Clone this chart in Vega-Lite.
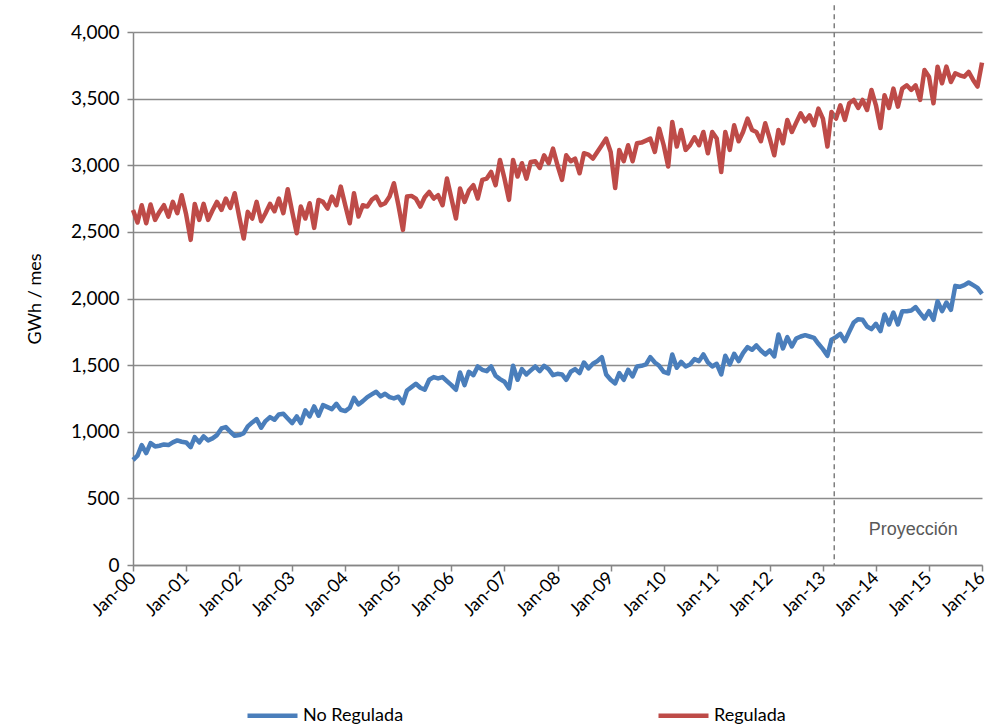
{
"$schema": "https://vega.github.io/schema/vega-lite/v6.json",
"width": 849, "height": 533,
"autosize": {"type": "none"},
"padding": {"left": 133, "top": 32, "right": 19, "bottom": 163},
"background": "white",
"config": {"view": {"stroke": null}, "font": "Lato"},
"datasets": {
"series": [
{"d":"2000-01-01","No Regulada":788,"Regulada":2664},{"d":"2000-02-01","No Regulada":820,"Regulada":2570},{"d":"2000-03-01","No Regulada":900,"Regulada":2700},{"d":"2000-04-01","No Regulada":840,"Regulada":2565},{"d":"2000-05-01","No Regulada":915,"Regulada":2705},{"d":"2000-06-01","No Regulada":890,"Regulada":2590},{"d":"2000-07-01","No Regulada":895,"Regulada":2650},{"d":"2000-08-01","No Regulada":905,"Regulada":2700},{"d":"2000-09-01","No Regulada":900,"Regulada":2615},{"d":"2000-10-01","No Regulada":920,"Regulada":2725},{"d":"2000-11-01","No Regulada":935,"Regulada":2640},{"d":"2000-12-01","No Regulada":925,"Regulada":2775},
{"d":"2001-01-01","No Regulada":920,"Regulada":2630},{"d":"2001-02-01","No Regulada":885,"Regulada":2440},{"d":"2001-03-01","No Regulada":960,"Regulada":2710},{"d":"2001-04-01","No Regulada":920,"Regulada":2590},{"d":"2001-05-01","No Regulada":965,"Regulada":2710},{"d":"2001-06-01","No Regulada":935,"Regulada":2590},{"d":"2001-07-01","No Regulada":950,"Regulada":2660},{"d":"2001-08-01","No Regulada":975,"Regulada":2725},{"d":"2001-09-01","No Regulada":1025,"Regulada":2665},{"d":"2001-10-01","No Regulada":1035,"Regulada":2750},{"d":"2001-11-01","No Regulada":1000,"Regulada":2680},{"d":"2001-12-01","No Regulada":970,"Regulada":2790},
{"d":"2002-01-01","No Regulada":975,"Regulada":2615},{"d":"2002-02-01","No Regulada":990,"Regulada":2450},{"d":"2002-03-01","No Regulada":1040,"Regulada":2650},{"d":"2002-04-01","No Regulada":1070,"Regulada":2600},{"d":"2002-05-01","No Regulada":1095,"Regulada":2725},{"d":"2002-06-01","No Regulada":1030,"Regulada":2580},{"d":"2002-07-01","No Regulada":1080,"Regulada":2640},{"d":"2002-08-01","No Regulada":1110,"Regulada":2710},{"d":"2002-09-01","No Regulada":1090,"Regulada":2655},{"d":"2002-10-01","No Regulada":1130,"Regulada":2750},{"d":"2002-11-01","No Regulada":1135,"Regulada":2640},{"d":"2002-12-01","No Regulada":1100,"Regulada":2820},
{"d":"2003-01-01","No Regulada":1065,"Regulada":2650},{"d":"2003-02-01","No Regulada":1115,"Regulada":2490},{"d":"2003-03-01","No Regulada":1065,"Regulada":2690},{"d":"2003-04-01","No Regulada":1160,"Regulada":2600},{"d":"2003-05-01","No Regulada":1115,"Regulada":2715},{"d":"2003-06-01","No Regulada":1190,"Regulada":2530},{"d":"2003-07-01","No Regulada":1120,"Regulada":2740},{"d":"2003-08-01","No Regulada":1200,"Regulada":2725},{"d":"2003-09-01","No Regulada":1185,"Regulada":2675},{"d":"2003-10-01","No Regulada":1170,"Regulada":2765},{"d":"2003-11-01","No Regulada":1210,"Regulada":2700},{"d":"2003-12-01","No Regulada":1165,"Regulada":2840},
{"d":"2004-01-01","No Regulada":1155,"Regulada":2700},{"d":"2004-02-01","No Regulada":1180,"Regulada":2565},{"d":"2004-03-01","No Regulada":1255,"Regulada":2790},{"d":"2004-04-01","No Regulada":1205,"Regulada":2615},{"d":"2004-05-01","No Regulada":1230,"Regulada":2700},{"d":"2004-06-01","No Regulada":1260,"Regulada":2690},{"d":"2004-07-01","No Regulada":1280,"Regulada":2740},{"d":"2004-08-01","No Regulada":1300,"Regulada":2765},{"d":"2004-09-01","No Regulada":1265,"Regulada":2700},{"d":"2004-10-01","No Regulada":1285,"Regulada":2715},{"d":"2004-11-01","No Regulada":1260,"Regulada":2765},{"d":"2004-12-01","No Regulada":1250,"Regulada":2865},
{"d":"2005-01-01","No Regulada":1263,"Regulada":2700},{"d":"2005-02-01","No Regulada":1215,"Regulada":2515},{"d":"2005-03-01","No Regulada":1310,"Regulada":2765},{"d":"2005-04-01","No Regulada":1335,"Regulada":2770},{"d":"2005-05-01","No Regulada":1360,"Regulada":2750},{"d":"2005-06-01","No Regulada":1330,"Regulada":2690},{"d":"2005-07-01","No Regulada":1315,"Regulada":2760},{"d":"2005-08-01","No Regulada":1390,"Regulada":2800},{"d":"2005-09-01","No Regulada":1410,"Regulada":2750},{"d":"2005-10-01","No Regulada":1400,"Regulada":2775},{"d":"2005-11-01","No Regulada":1410,"Regulada":2700},{"d":"2005-12-01","No Regulada":1380,"Regulada":2900},
{"d":"2006-01-01","No Regulada":1350,"Regulada":2750},{"d":"2006-02-01","No Regulada":1315,"Regulada":2600},{"d":"2006-03-01","No Regulada":1445,"Regulada":2825},{"d":"2006-04-01","No Regulada":1350,"Regulada":2725},{"d":"2006-05-01","No Regulada":1450,"Regulada":2810},{"d":"2006-06-01","No Regulada":1425,"Regulada":2850},{"d":"2006-07-01","No Regulada":1490,"Regulada":2750},{"d":"2006-08-01","No Regulada":1465,"Regulada":2890},{"d":"2006-09-01","No Regulada":1455,"Regulada":2900},{"d":"2006-10-01","No Regulada":1490,"Regulada":2950},{"d":"2006-11-01","No Regulada":1420,"Regulada":2850},{"d":"2006-12-01","No Regulada":1395,"Regulada":3040},
{"d":"2007-01-01","No Regulada":1375,"Regulada":2900},{"d":"2007-02-01","No Regulada":1325,"Regulada":2740},{"d":"2007-03-01","No Regulada":1495,"Regulada":3040},{"d":"2007-04-01","No Regulada":1390,"Regulada":2915},{"d":"2007-05-01","No Regulada":1470,"Regulada":3015},{"d":"2007-06-01","No Regulada":1430,"Regulada":2900},{"d":"2007-07-01","No Regulada":1460,"Regulada":3025},{"d":"2007-08-01","No Regulada":1490,"Regulada":3030},{"d":"2007-09-01","No Regulada":1455,"Regulada":2980},{"d":"2007-10-01","No Regulada":1495,"Regulada":3075},{"d":"2007-11-01","No Regulada":1470,"Regulada":3015},{"d":"2007-12-01","No Regulada":1425,"Regulada":3125},
{"d":"2008-01-01","No Regulada":1435,"Regulada":3000},{"d":"2008-02-01","No Regulada":1430,"Regulada":2890},{"d":"2008-03-01","No Regulada":1390,"Regulada":3075},{"d":"2008-04-01","No Regulada":1450,"Regulada":3030},{"d":"2008-05-01","No Regulada":1470,"Regulada":3050},{"d":"2008-06-01","No Regulada":1440,"Regulada":2940},{"d":"2008-07-01","No Regulada":1520,"Regulada":3090},{"d":"2008-08-01","No Regulada":1475,"Regulada":3080},{"d":"2008-09-01","No Regulada":1510,"Regulada":3050},{"d":"2008-10-01","No Regulada":1530,"Regulada":3100},{"d":"2008-11-01","No Regulada":1560,"Regulada":3150},{"d":"2008-12-01","No Regulada":1430,"Regulada":3200},
{"d":"2009-01-01","No Regulada":1390,"Regulada":3100},{"d":"2009-02-01","No Regulada":1363,"Regulada":2830},{"d":"2009-03-01","No Regulada":1440,"Regulada":3115},{"d":"2009-04-01","No Regulada":1390,"Regulada":3030},{"d":"2009-05-01","No Regulada":1465,"Regulada":3150},{"d":"2009-06-01","No Regulada":1415,"Regulada":3030},{"d":"2009-07-01","No Regulada":1490,"Regulada":3165},{"d":"2009-08-01","No Regulada":1495,"Regulada":3170},{"d":"2009-09-01","No Regulada":1505,"Regulada":3185},{"d":"2009-10-01","No Regulada":1560,"Regulada":3200},{"d":"2009-11-01","No Regulada":1520,"Regulada":3100},{"d":"2009-12-01","No Regulada":1495,"Regulada":3275},
{"d":"2010-01-01","No Regulada":1450,"Regulada":3150},{"d":"2010-02-01","No Regulada":1438,"Regulada":2990},{"d":"2010-03-01","No Regulada":1580,"Regulada":3325},{"d":"2010-04-01","No Regulada":1480,"Regulada":3140},{"d":"2010-05-01","No Regulada":1525,"Regulada":3265},{"d":"2010-06-01","No Regulada":1490,"Regulada":3115},{"d":"2010-07-01","No Regulada":1505,"Regulada":3150},{"d":"2010-08-01","No Regulada":1545,"Regulada":3210},{"d":"2010-09-01","No Regulada":1530,"Regulada":3150},{"d":"2010-10-01","No Regulada":1580,"Regulada":3250},{"d":"2010-11-01","No Regulada":1520,"Regulada":3090},{"d":"2010-12-01","No Regulada":1490,"Regulada":3250},
{"d":"2011-01-01","No Regulada":1510,"Regulada":3200},{"d":"2011-02-01","No Regulada":1430,"Regulada":2950},{"d":"2011-03-01","No Regulada":1570,"Regulada":3250},{"d":"2011-04-01","No Regulada":1505,"Regulada":3115},{"d":"2011-05-01","No Regulada":1585,"Regulada":3300},{"d":"2011-06-01","No Regulada":1530,"Regulada":3180},{"d":"2011-07-01","No Regulada":1590,"Regulada":3250},{"d":"2011-08-01","No Regulada":1635,"Regulada":3350},{"d":"2011-09-01","No Regulada":1615,"Regulada":3265},{"d":"2011-10-01","No Regulada":1648,"Regulada":3250},{"d":"2011-11-01","No Regulada":1610,"Regulada":3180},{"d":"2011-12-01","No Regulada":1580,"Regulada":3315},
{"d":"2012-01-01","No Regulada":1610,"Regulada":3200},{"d":"2012-02-01","No Regulada":1565,"Regulada":3075},{"d":"2012-03-01","No Regulada":1730,"Regulada":3265},{"d":"2012-04-01","No Regulada":1625,"Regulada":3165},{"d":"2012-05-01","No Regulada":1710,"Regulada":3340},{"d":"2012-06-01","No Regulada":1640,"Regulada":3250},{"d":"2012-07-01","No Regulada":1700,"Regulada":3320},{"d":"2012-08-01","No Regulada":1715,"Regulada":3390},{"d":"2012-09-01","No Regulada":1725,"Regulada":3330},{"d":"2012-10-01","No Regulada":1715,"Regulada":3375},{"d":"2012-11-01","No Regulada":1705,"Regulada":3300},{"d":"2012-12-01","No Regulada":1660,"Regulada":3425},
{"d":"2013-01-01","No Regulada":1620,"Regulada":3350},{"d":"2013-02-01","No Regulada":1570,"Regulada":3140},{"d":"2013-03-01","No Regulada":1690,"Regulada":3400},{"d":"2013-04-01","No Regulada":1710,"Regulada":3350},{"d":"2013-05-01","No Regulada":1735,"Regulada":3450},{"d":"2013-06-01","No Regulada":1680,"Regulada":3340},{"d":"2013-07-01","No Regulada":1750,"Regulada":3465},{"d":"2013-08-01","No Regulada":1820,"Regulada":3490},{"d":"2013-09-01","No Regulada":1845,"Regulada":3430},{"d":"2013-10-01","No Regulada":1840,"Regulada":3490},{"d":"2013-11-01","No Regulada":1790,"Regulada":3415},{"d":"2013-12-01","No Regulada":1770,"Regulada":3565},
{"d":"2014-01-01","No Regulada":1810,"Regulada":3450},{"d":"2014-02-01","No Regulada":1755,"Regulada":3280},{"d":"2014-03-01","No Regulada":1880,"Regulada":3525},{"d":"2014-04-01","No Regulada":1805,"Regulada":3430},{"d":"2014-05-01","No Regulada":1895,"Regulada":3575},{"d":"2014-06-01","No Regulada":1805,"Regulada":3440},{"d":"2014-07-01","No Regulada":1905,"Regulada":3575},{"d":"2014-08-01","No Regulada":1905,"Regulada":3600},{"d":"2014-09-01","No Regulada":1910,"Regulada":3565},{"d":"2014-10-01","No Regulada":1935,"Regulada":3600},{"d":"2014-11-01","No Regulada":1890,"Regulada":3490},{"d":"2014-12-01","No Regulada":1850,"Regulada":3715},
{"d":"2015-01-01","No Regulada":1905,"Regulada":3665},{"d":"2015-02-01","No Regulada":1840,"Regulada":3465},{"d":"2015-03-01","No Regulada":1980,"Regulada":3740},{"d":"2015-04-01","No Regulada":1905,"Regulada":3615},{"d":"2015-05-01","No Regulada":1970,"Regulada":3740},{"d":"2015-06-01","No Regulada":1915,"Regulada":3625},{"d":"2015-07-01","No Regulada":2095,"Regulada":3690},{"d":"2015-08-01","No Regulada":2088,"Regulada":3675},{"d":"2015-09-01","No Regulada":2100,"Regulada":3665},{"d":"2015-10-01","No Regulada":2120,"Regulada":3700},{"d":"2015-11-01","No Regulada":2100,"Regulada":3640},{"d":"2015-12-01","No Regulada":2080,"Regulada":3590},
{"d":"2016-01-01","No Regulada":2035,"Regulada":3770}
],
"marker": [{"d":"2013-03-20","top":4200,"bottom":0,"label":"Proyección","ly":265,"ld":"2014-09-15"}]
},
"layer": [
{
"data": {"name": "series"},
"transform": [{"fold": ["No Regulada", "Regulada"], "as": ["serie", "v"]}],
"mark": {"type": "line", "strokeWidth": 4.5, "strokeJoin": "round", "clip": false},
"encoding": {
"x": {"field": "d", "type": "temporal",
"scale": {"type": "utc", "domain": [946684800000, 1451606400000], "nice": false},
"axis": {"title": null, "labelExpr": "utcFormat(datum.value, '%b-%y')", "tickCount": {"interval": "year", "step": 1},
"labelAngle": -45, "labelAlign": "right", "labelBaseline": "middle", "labelFontSize": 18, "labelColor": "#000000",
"labelPadding": 4, "domainColor": "#868686", "domainWidth": 1.5, "tickColor": "#868686", "tickSize": 6, "tickWidth": 1.5,
"grid": false, "labelFlush": false, "labelOverlap": false}},
"y": {"field": "v", "type": "quantitative",
"scale": {"domain": [0, 4000], "nice": false},
"axis": {"title": "GWh / mes", "titleFontSize": 18, "titleFontWeight": "normal", "titleColor": "#000000", "titlePadding": 26,
"values": [0, 500, 1000, 1500, 2000, 2500, 3000, 3500, 4000], "format": ",.0f",
"labelFontSize": 19, "labelColor": "#000000", "labelPadding": 8,
"domainColor": "#868686", "domainWidth": 1.5, "tickColor": "#868686", "tickSize": 6, "tickWidth": 1.5,
"grid": true, "gridColor": "#8c8c8c", "gridWidth": 1.5}},
"color": {"field": "serie", "type": "nominal",
"scale": {"domain": ["No Regulada", "Regulada"], "range": ["#4A7EBB", "#BE4B48"]},
"legend": {"title": null, "orient": "none", "legendX": 112, "legendY": 656, "direction": "horizontal",
"symbolType": "stroke", "symbolSize": 2500, "symbolStrokeWidth": 4.5, "labelFontSize": 18, "labelColor": "#000000",
"labelOffset": 3, "columnPadding": 245}}
}
},
{
"data": {"name": "marker"},
"mark": {"type": "rule", "strokeDash": [5, 4], "color": "#7f7f7f", "strokeWidth": 1.5, "clip": false},
"encoding": {
"x": {"field": "d", "type": "temporal"},
"y": {"field": "top", "type": "quantitative"},
"y2": {"field": "bottom"}
}
},
{
"data": {"name": "marker"},
"mark": {"type": "text", "font": "Liberation Sans", "fontSize": 18, "color": "#595959", "align": "center", "baseline": "middle"},
"encoding": {
"x": {"field": "ld", "type": "temporal"},
"y": {"field": "ly", "type": "quantitative"},
"text": {"field": "label"}
}
}
]
}
